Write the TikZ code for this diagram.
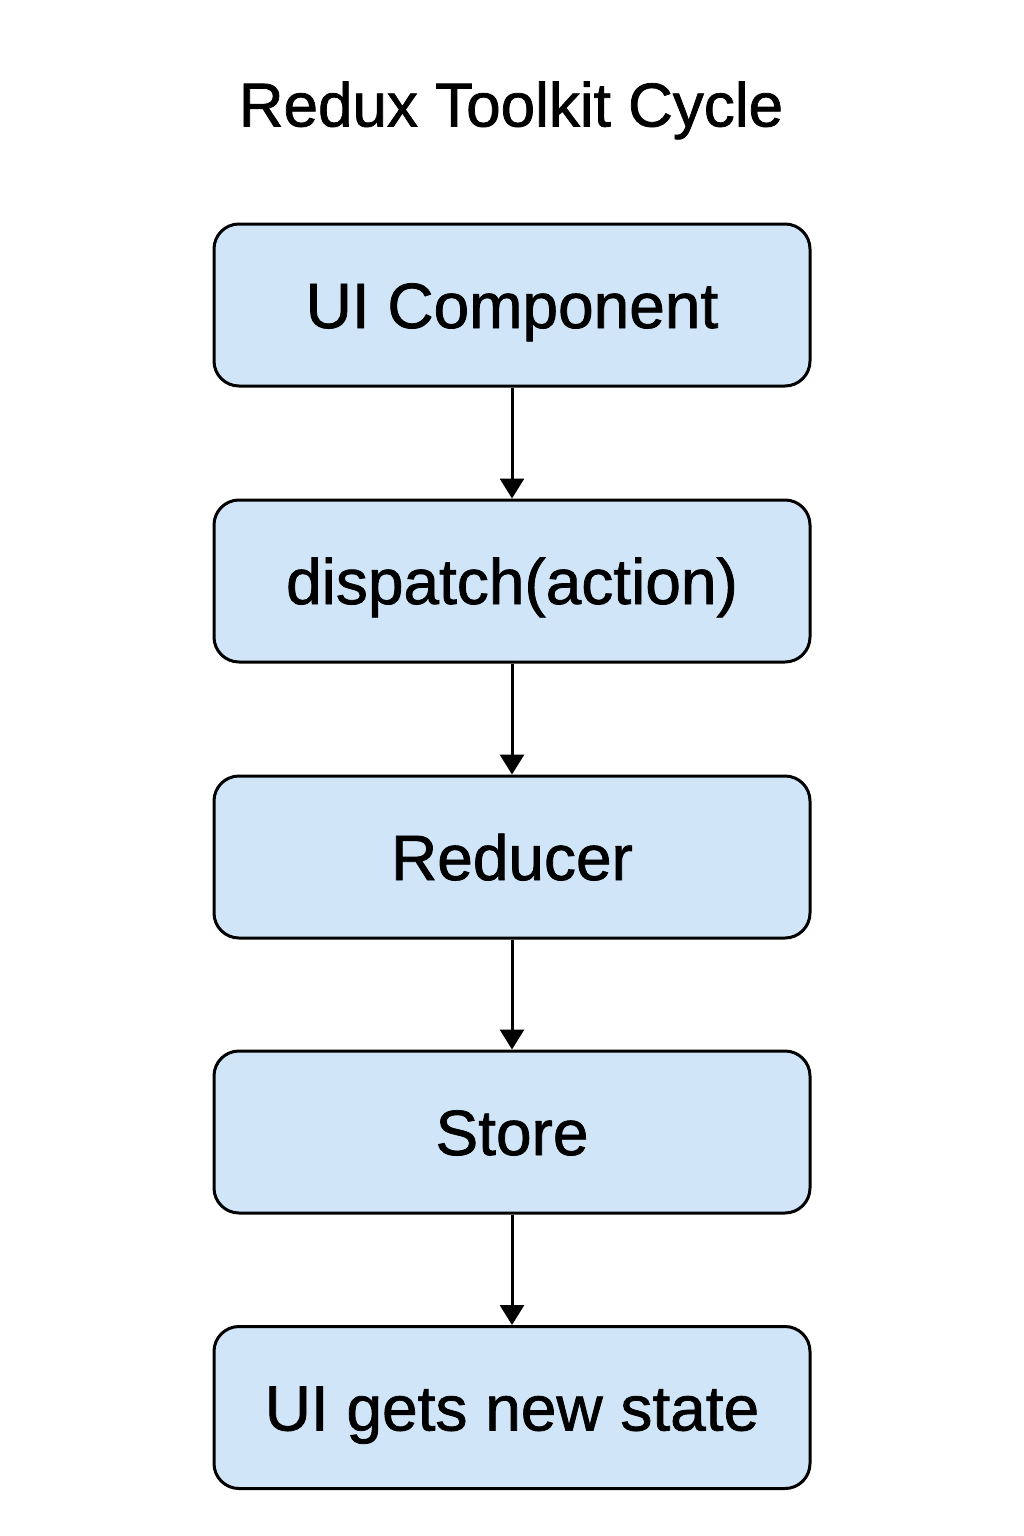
\documentclass[tikz,border=0pt]{standalone}
\usepackage{fontspec}
\setmainfont{Liberation Sans}
\newfontfamily\medfont{Liberation Sans}[FakeBold=1.2]
\usetikzlibrary{arrows.meta}
\definecolor{boxfill}{HTML}{D0E5F7}
\begin{document}
\begin{tikzpicture}[x=1pt,y=-1pt,
  stagebox/.style={draw=black,line width=3pt,fill=boxfill,rounded corners=25pt,
    minimum width=596pt,minimum height=162pt,inner sep=0pt,
    text height=46pt,text depth=0pt,
    font=\medfont\fontsize{64}{70}\selectfont},
  flow/.style={-{Triangle[length=20pt,width=24pt]},line width=3pt}]
\useasboundingbox (0,0) rectangle (1024,1536);
\fill[white] (0,0) rectangle (1024,1536);
\node[font=\medfont\fontsize{62}{68}\selectfont,text height=45pt,text depth=0pt] (title) at (511,104) {Redux Toolkit Cycle};
\node[stagebox] (ui) at (512,305) {UI Component};
\node[stagebox] (disp) at (512,581) {dispatch(action)};
\node[stagebox] (red) at (512,857) {Reducer};
\node[stagebox] (store) at (512,1132) {Store};
\node[stagebox] (new) at (512,1407.5) {UI gets new state};
\draw[flow] (ui) -- (disp);
\draw[flow] (disp) -- (red);
\draw[flow] (red) -- (store);
\draw[flow] (store) -- (new);
\end{tikzpicture}
\end{document}
